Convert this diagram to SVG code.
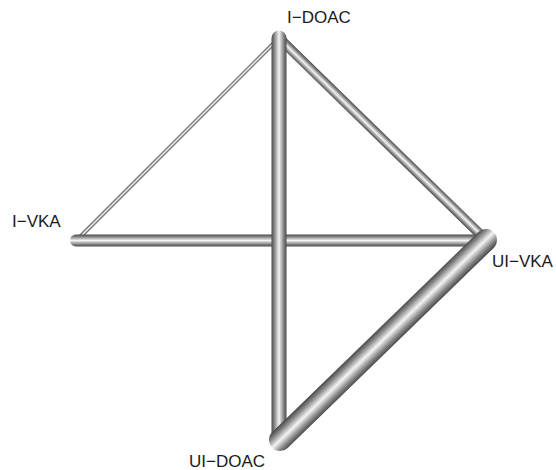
<svg xmlns="http://www.w3.org/2000/svg" width="556" height="470" viewBox="0 0 556 470">
<style>
.lbl{font-family:"Liberation Sans",Arial,sans-serif;font-size:17px;fill:#1a1a1a}
.e{fill:none;stroke-linecap:round}
</style>
<defs>
<linearGradient id="tube" spreadMethod="pad">
<stop offset="0" stop-color="#4a4a4a"/>
<stop offset="0.2" stop-color="#888"/>
<stop offset="0.5" stop-color="#f4f4f4"/>
<stop offset="0.8" stop-color="#888"/>
<stop offset="1" stop-color="#4a4a4a"/>
</linearGradient>
<linearGradient id="g4" href="#tube" gradientUnits="userSpaceOnUse" x1="176.1" y1="138.1" x2="178.9" y2="140.9"/>
<linearGradient id="g2" href="#tube" gradientUnits="userSpaceOnUse" x1="0" y1="234.5" x2="0" y2="246.5"/>
<linearGradient id="g1" href="#tube" gradientUnits="userSpaceOnUse" x1="271.5" y1="0" x2="286.5" y2="0"/>
<linearGradient id="g3" href="#tube" gradientUnits="userSpaceOnUse" x1="379" y1="142.6" x2="386" y2="135.4"/>
<linearGradient id="g5" href="#tube" gradientUnits="userSpaceOnUse" x1="375.3" y1="332.1" x2="390.7" y2="347.9"/>
</defs>
<g id="edges">
<line class="e" x1="279" y1="38" x2="76" y2="241" stroke="url(#g4)" stroke-width="4"/>
<line class="e" x1="279" y1="38" x2="486" y2="240" stroke="url(#g3)" stroke-width="10"/>
<line class="e" x1="76" y1="240.5" x2="486" y2="240.5" stroke="url(#g2)" stroke-width="12"/>
<line class="e" x1="279" y1="38" x2="279" y2="440" stroke="url(#g1)" stroke-width="15"/>
<line class="e" x1="486" y1="240" x2="280" y2="440" stroke="url(#g5)" stroke-width="22"/>
</g>
<g id="I-DOAC"><text class="lbl" x="287" y="23">I−DOAC</text></g>
<g id="I-VKA"><text class="lbl" x="12" y="227">I−VKA</text></g>
<g id="UI-VKA"><text class="lbl" x="492" y="267">UI−VKA</text></g>
<g id="UI-DOAC"><text class="lbl" x="189" y="467">UI−DOAC</text></g>
</svg>
